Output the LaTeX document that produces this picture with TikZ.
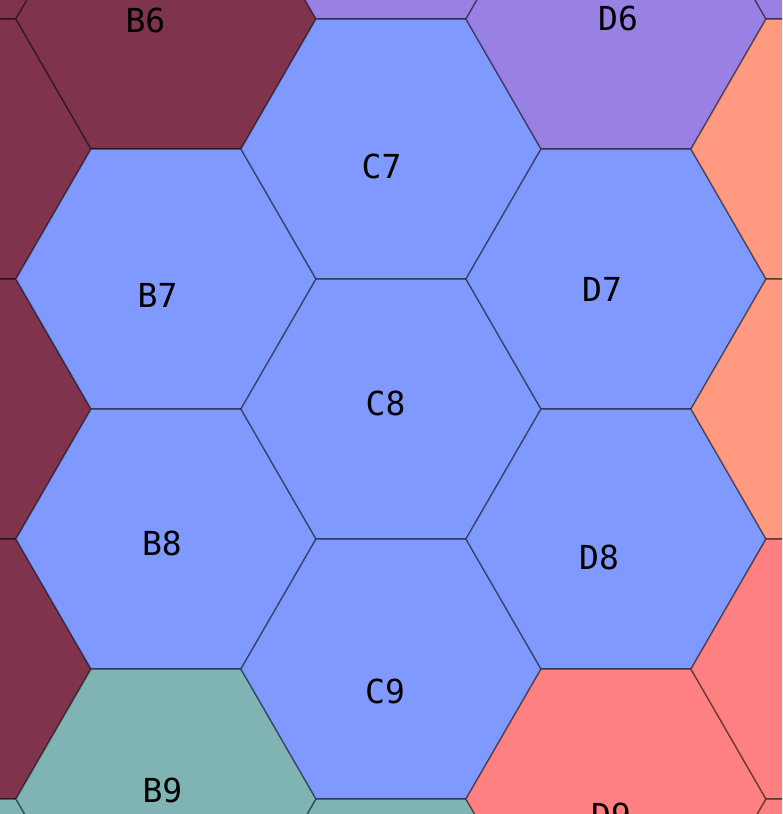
\documentclass[tikz,border=0pt]{standalone}
\usepackage{fontspec}
\setmainfont{DejaVu Sans Mono}
\usetikzlibrary{shapes.geometric}
\definecolor{hexblue}{HTML}{8099FF}
\definecolor{hexmaroon}{HTML}{80334D}
\definecolor{hexpurple}{HTML}{9980E3}
\definecolor{hexteal}{HTML}{80B3B3}
\definecolor{hexsalmon}{HTML}{FF9980}
\definecolor{hexred}{HTML}{FF8080}

\begin{document}
\begin{tikzpicture}[y=-1cm,
	hexcell/.style={regular polygon, regular polygon sides=6, minimum size=3cm, inner sep=0pt, outer sep=0pt, draw=black, draw opacity=.45, line width=.4pt},
	hexlabel/.style={font=\fontsize{9.4}{11}\selectfont, text=black, inner sep=0pt}]
		%% The visible window of the map, everything else is cut away
		\useasboundingbox (0,0) rectangle (7.82,8.14);
		\clip (0,0) rectangle (7.82,8.14);
		\begin{scope}
			%% Column A (only its right edge shows)
			\node[hexcell, fill=hexmaroon] (hexA5) at (-0.59,-1.11) {};
			\node[hexcell, fill=hexmaroon] (hexA6) at (-0.59,1.49) {};
			\node[hexcell, fill=hexmaroon] (hexA7) at (-0.59,4.09) {};
			\node[hexcell, fill=hexmaroon] (hexA8) at (-0.59,6.69) {};
			\node[hexcell, fill=hexteal] (hexA9) at (-0.59,9.29) {};
			%% Column B
			\node[hexcell, fill=hexmaroon] (hexB6) at (1.66,0.19) {};
			\node[hexcell, fill=hexblue] (hexB7) at (1.66,2.79) {};
			\node[hexcell, fill=hexblue] (hexB8) at (1.66,5.39) {};
			\node[hexcell, fill=hexteal] (hexB9) at (1.66,7.99) {};
			%% Column C
			\node[hexcell, fill=hexpurple] (hexC6) at (3.91,-1.11) {};
			\node[hexcell, fill=hexblue] (hexC7) at (3.91,1.49) {};
			\node[hexcell, fill=hexblue] (hexC8) at (3.91,4.09) {};
			\node[hexcell, fill=hexblue] (hexC9) at (3.91,6.69) {};
			\node[hexcell, fill=hexteal] (hexC10) at (3.91,9.29) {};
			%% Column D
			\node[hexcell, fill=hexpurple] (hexD6) at (6.16,0.19) {};
			\node[hexcell, fill=hexblue] (hexD7) at (6.16,2.79) {};
			\node[hexcell, fill=hexblue] (hexD8) at (6.16,5.39) {};
			\node[hexcell, fill=hexred] (hexD9) at (6.16,7.99) {};
			%% Column E (only its left edge shows)
			\node[hexcell, fill=hexpurple] (hexE5) at (8.41,-1.11) {};
			\node[hexcell, fill=hexsalmon] (hexE6) at (8.41,1.49) {};
			\node[hexcell, fill=hexsalmon] (hexE7) at (8.41,4.09) {};
			\node[hexcell, fill=hexred] (hexE8) at (8.41,6.69) {};
			\node[hexcell, fill=hexred] (hexE9) at (8.41,9.29) {};
		\end{scope}
		%% Cell names, a bit off the centres as in the map
		\node[hexlabel] (lblB6) at (1.455,0.20) {B6};
		\node[hexlabel] (lblD6) at (6.18,0.18) {D6};
		\node[hexlabel] (lblC7) at (3.815,1.66) {C7};
		\node[hexlabel] (lblB7) at (1.575,2.95) {B7};
		\node[hexlabel] (lblD7) at (6.02,2.895) {D7};
		\node[hexlabel] (lblC8) at (3.855,4.035) {C8};
		\node[hexlabel] (lblB8) at (1.62,5.435) {B8};
		\node[hexlabel] (lblD8) at (5.99,5.575) {D8};
		\node[hexlabel] (lblC9) at (3.85,6.915) {C9};
		\node[hexlabel] (lblB9) at (1.625,7.90) {B9};
		\node[hexlabel] (lblD9) at (6.11,8.15) {D9};
	\end{tikzpicture}
\end{document}
